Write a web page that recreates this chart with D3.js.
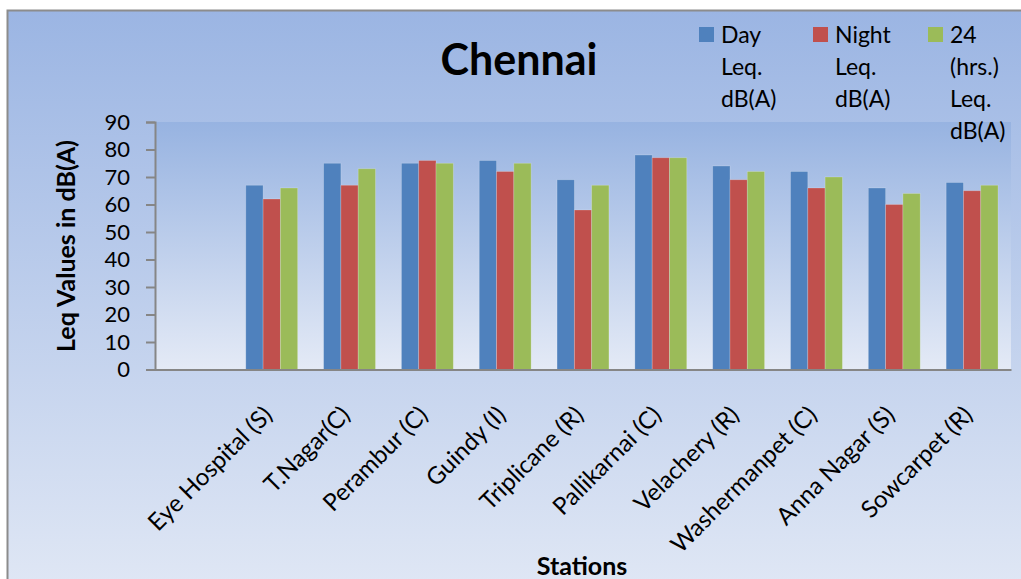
<!DOCTYPE html>
<html>
<head>
<meta charset="utf-8">
<script src="https://cdn.jsdelivr.net/npm/d3@7"></script>
<style>
  html, body { margin: 0; padding: 0; background: #fff; }
  svg { display: block; }
  text { font-family: Lato, "Open Sans", sans-serif; fill: #000; }
</style>
</head>
<body>
<svg id="chart" width="1021" height="579"></svg>
<script>
const title = "Chennai";
const categories = ["", "Eye Hospital (S)", "T.Nagar(C)", "Perambur (C)", "Guindy (I)", "Triplicane (R)",
  "Pallikarnai (C)", "Velachery (R)", "Washermanpet (C)", "Anna Nagar (S)", "Sowcarpet (R)"];
const seriesNames = ["Day Leq. dB(A)", "Night Leq. dB(A)", "24 (hrs.) Leq. dB(A)"];
const dayValues   = [null, 67, 75, 75, 76, 69, 78, 74, 72, 66, 68];
const nightValues = [null, 62, 67, 76, 72, 58, 77, 69, 66, 60, 65];
const allDayValues = [null, 66, 73, 75, 75, 67, 77, 72, 70, 64, 67];
const yTicks = [0, 10, 20, 30, 40, 50, 60, 70, 80, 90];
const yTitle = "Leq Values in dB(A)";
const xTitle = "Stations";
const colors = ["#4f81bd", "#c0504d", "#9bbb59"];

const seriesValues = [dayValues, nightValues, allDayValues];

const svg = d3.select("#chart");
const defs = svg.append("defs");

const g1 = defs.append("linearGradient").attr("id", "outerGrad")
  .attr("gradientUnits", "userSpaceOnUse").attr("x1", 0).attr("y1", 10).attr("x2", 0).attr("y2", 600);
g1.append("stop").attr("offset", 0).attr("stop-color", "#9bb5e3");
g1.append("stop").attr("offset", 1).attr("stop-color", "#e1e8f5");

const plot = { left: 155, right: 1011, top: 122, bottom: 369.5 };

const g2 = defs.append("linearGradient").attr("id", "plotGrad")
  .attr("gradientUnits", "userSpaceOnUse").attr("x1", 0).attr("y1", plot.top).attr("x2", 0).attr("y2", plot.bottom);
g2.append("stop").attr("offset", 0).attr("stop-color", "#97b3e1");
g2.append("stop").attr("offset", 1).attr("stop-color", "#e4eaf6");

// outer chart area
svg.append("rect").attr("x", 7.5).attr("y", 10.5).attr("width", 1040).attr("height", 620)
  .attr("fill", "url(#outerGrad)").attr("stroke", "#8c8c8c").attr("stroke-width", 2);

// plot area
svg.append("rect").attr("x", plot.left).attr("y", plot.top)
  .attr("width", plot.right - plot.left).attr("height", plot.bottom - plot.top)
  .attr("fill", "url(#plotGrad)");

const x = d3.scaleBand().domain(categories).range([plot.left, plot.right]).paddingInner(0).paddingOuter(0);
const bw = x.bandwidth();
const x1 = d3.scaleBand().domain(d3.range(seriesNames.length)).range([bw / 6, bw * 5 / 6]).padding(0);
const y = d3.scaleLinear().domain([0, 90]).range([plot.bottom, plot.top]);

// bars
seriesValues.forEach((vals, si) => {
  svg.append("g").selectAll("rect")
    .data(categories.map((c, i) => ({ c, v: vals[i] })).filter(d => d.v != null))
    .join("rect")
    .attr("x", d => x(d.c) + x1(si))
    .attr("y", d => y(d.v))
    .attr("width", x1.bandwidth())
    .attr("height", d => y(0) - y(d.v))
    .attr("fill", colors[si])
    .attr("stroke", "rgba(255,255,255,0.25)")
    .attr("stroke-width", 0.8);
});

// y axis
const yAxis = svg.append("g").attr("transform", `translate(${plot.left},0)`)
  .call(d3.axisLeft(y).tickValues(yTicks).tickSize(9).tickPadding(16));
yAxis.select(".domain").attr("stroke", "#868686").attr("stroke-width", 2);
yAxis.selectAll(".tick line").attr("stroke", "#868686").attr("stroke-width", 2);
yAxis.selectAll(".tick text").style("font-family", "Lato, sans-serif").style("font-size", "22px").attr("fill", "#000");

// x axis
const xAxis = svg.append("g").attr("transform", `translate(0,${plot.bottom})`)
  .call(d3.axisBottom(x).tickSize(0).tickSizeOuter(0));
xAxis.select(".domain").attr("stroke", "#868686").attr("stroke-width", 2);
xAxis.selectAll(".tick text")
  .style("font-family", "Lato, sans-serif").style("font-size", "24px").attr("fill", "#000")
  .attr("text-anchor", "end").attr("y", 0).attr("dy", 0)
  .attr("transform", "translate(2,47) rotate(-45)");

// title
svg.append("text").attr("x", 519).attr("y", 75).attr("text-anchor", "middle")
  .style("font-size", "43px").style("font-weight", "bold").text(title);

// axis titles
svg.append("text").attr("transform", "translate(75,246) rotate(-90)").attr("text-anchor", "middle")
  .style("font-size", "25px").style("font-weight", "bold").text(yTitle);
svg.append("text").attr("x", 582).attr("y", 575).attr("text-anchor", "middle")
  .style("font-size", "25px").style("font-weight", "bold").text(xTitle);

// legend
const legendX = [699, 813, 928];
seriesNames.forEach((name, i) => {
  const lg = svg.append("g").attr("transform", `translate(${legendX[i]},27)`);
  lg.append("rect").attr("x", 0).attr("y", 0).attr("width", 15).attr("height", 15).attr("fill", colors[i]);
  const t = lg.append("text").attr("x", 22).attr("y", 16).style("font-size", "23px");
  name.split(" ").forEach((w, k) => {
    t.append("tspan").attr("x", 22).attr("dy", k === 0 ? 0 : 32).text(w);
  });
});
</script>
</body>
</html>
